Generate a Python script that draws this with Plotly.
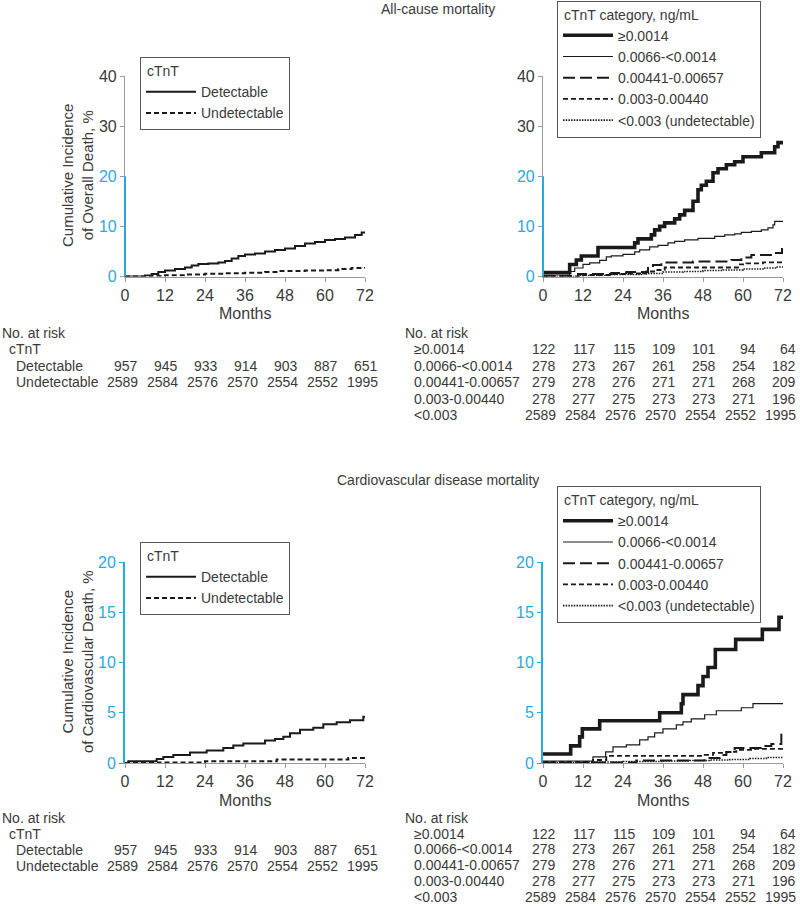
import plotly.graph_objects as go

# ---------------- data ----------------
months_ticks = [0, 12, 24, 36, 48, 60, 72]

# All-cause mortality, detectable vs undetectable
all_det_t = [0, 6, 8, 10, 12, 15, 18, 20, 22, 25, 28, 30, 32, 34, 36, 39, 42, 45, 48, 51, 54, 57, 60, 63, 66, 69, 71, 72]
all_det_y = [0, 0.2, 0.5, 0.9, 1.2, 1.5, 1.8, 2.2, 2.5, 2.6, 2.8, 3.1, 3.6, 4.1, 4.4, 4.6, 5.0, 5.3, 5.6, 6.1, 6.6, 6.9, 7.3, 7.5, 7.8, 8.3, 8.8, 9.0]
all_und_t = [0, 8, 12, 18, 24, 30, 36, 42, 46, 54, 60, 64, 68, 72]
all_und_y = [0, 0.1, 0.25, 0.4, 0.55, 0.65, 0.75, 0.9, 1.1, 1.2, 1.25, 1.5, 1.7, 1.9]

# All-cause mortality, cTnT categories
all_c1_t = [0, 8, 10, 11.5, 16.5, 27.5, 28.5, 32.5, 33.5, 35, 36.5, 39.5, 41, 42.5, 45, 46.5, 47.5, 49, 51, 52.5, 55, 57.5, 60, 65.5, 69.5, 70.5, 72]
all_c1_y = [0.8, 2.4, 3.3, 4.1, 5.8, 6.7, 7.5, 8.3, 9.3, 10.0, 10.7, 11.5, 12.3, 13.2, 15.0, 17.3, 18.2, 19.0, 20.7, 21.5, 22.3, 22.9, 23.9, 24.7, 25.9, 26.7, 26.7]
all_c2_t = [0, 8, 9.5, 12, 14, 17, 19, 20.5, 24, 27.5, 29, 32, 34.5, 37.5, 39.5, 42.5, 46.5, 51.5, 54.5, 57.5, 59.5, 62.5, 65.5, 67.5, 69, 69.5, 72]
all_c2_y = [0.3, 1.0, 1.7, 2.4, 2.7, 3.2, 3.9, 4.1, 4.4, 4.9, 5.3, 5.9, 6.2, 6.7, 7.0, 7.3, 7.6, 8.0, 8.3, 8.5, 8.8, 9.0, 9.3, 9.7, 10.3, 11.0, 11.0]
all_c3_t = [0, 10.5, 20.5, 25, 31.5, 33, 35.5, 45, 56.5, 59.5, 62.5, 69.5, 71.7, 72]
all_c3_y = [0.1, 0.5, 0.7, 0.9, 1.7, 2.3, 2.8, 3.0, 3.3, 3.8, 4.3, 4.7, 5.7, 5.7]
all_c4_t = [0, 12, 20, 25, 31, 34, 36.5, 58.5, 61, 66, 72]
all_c4_y = [0, 0.3, 0.5, 0.6, 1.0, 1.3, 1.8, 2.4, 2.6, 2.8, 2.8]
all_c5_t = [0, 10, 20, 30, 36, 42, 48, 54, 60, 66, 70, 72]
all_c5_y = [0, 0.2, 0.4, 0.6, 0.9, 1.0, 1.2, 1.3, 1.5, 1.7, 1.9, 2.0]

# Cardiovascular mortality, detectable vs undetectable
cvd_det_t = [0, 1, 9.5, 11.5, 14.5, 19.5, 24.5, 29.5, 32.5, 35.5, 42, 45, 47.5, 49.5, 52.5, 56.5, 59.5, 63.5, 67.5, 71.5, 72]
cvd_det_y = [0, 0.17, 0.4, 0.6, 0.8, 1.05, 1.25, 1.5, 1.75, 1.95, 2.25, 2.4, 2.6, 2.95, 3.3, 3.5, 3.85, 4.05, 4.25, 4.6, 4.7]
cvd_und_t = [0, 10, 24, 45.5, 67, 72]
cvd_und_y = [0, 0.05, 0.17, 0.34, 0.5, 0.5]

# Cardiovascular mortality, cTnT categories
cvd_c1_t = [0, 8.3, 11, 11.8, 17, 35, 41.5, 42, 46.5, 48, 49.5, 51.7, 57.8, 65.8, 70.8, 72]
cvd_c1_y = [0.9, 1.7, 2.6, 3.4, 4.2, 5.0, 5.9, 6.8, 7.7, 8.6, 9.5, 11.3, 12.3, 13.3, 14.5, 14.5]
cvd_c2_t = [0, 15, 18.8, 21, 25, 29, 31.5, 33.5, 36, 40, 42, 44.5, 48.5, 52, 59.5, 63, 72]
cvd_c2_y = [0.2, 0.6, 1.1, 1.6, 1.8, 2.3, 2.6, 3.0, 3.4, 3.8, 4.1, 4.4, 4.8, 5.2, 5.5, 5.9, 5.9]
cvd_c3_t = [0, 28, 48.5, 53, 55, 57.5, 65.5, 68.5, 71.5, 72]
cvd_c3_y = [0.05, 0.25, 0.5, 0.8, 1.1, 1.5, 1.7, 1.9, 2.8, 2.8]
cvd_c4_t = [0, 15, 19, 48.5, 51, 55, 58, 63, 72]
cvd_c4_y = [0.1, 0.3, 0.7, 0.8, 1.0, 1.1, 1.3, 1.4, 1.4]
cvd_c5_t = [0, 12, 24, 36, 44, 50, 56, 62, 67, 72]
cvd_c5_y = [0.05, 0.1, 0.15, 0.2, 0.25, 0.3, 0.35, 0.45, 0.55, 0.6]

# Number at risk
risk_detectable = [957, 945, 933, 914, 903, 887, 651]
risk_undetectable = [2589, 2584, 2576, 2570, 2554, 2552, 1995]
risk_cat1 = [122, 117, 115, 109, 101, 94, 64]
risk_cat2 = [278, 273, 267, 261, 258, 254, 182]
risk_cat3 = [279, 278, 276, 271, 271, 268, 209]
risk_cat4 = [278, 277, 275, 273, 273, 271, 196]
risk_cat5 = [2589, 2584, 2576, 2570, 2554, 2552, 1995]

two_names = ["Detectable", "Undetectable"]
cat_names = ["\u22650.0014", "0.0066-&lt;0.0014", "0.00441-0.00657", "0.003-0.00440", "&lt;0.003 (undetectable)"]
cat_row_labels = ["\u22650.0014", "0.0066-&lt;0.0014", "0.00441-0.00657", "0.003-0.00440", "&lt;0.003"]

# ---------------- styling ----------------
W, H = 800, 906
FONT = "Liberation Sans, Arial, sans-serif"
TXT = "#3a3a3a"
GRAY = "#9a9a9a"
BLUE = "#2aa9e0"
INK = "#1a1a1a"

two_styles = [dict(width=2, dash="solid"), dict(width=2, dash="5px,3px")]
cat_styles = [
    dict(width=3.6, dash="solid"),
    dict(width=1.2, dash="solid"),
    dict(width=2, dash="12px,5px"),
    dict(width=1.8, dash="5px,3px"),
    dict(width=1.6, dash="1.5px,1.2px"),
]

def px_x(p):
    return p / W

def px_y(p):
    return 1 - p / H

fig = go.Figure()

panels = [
    ("x", "y", [(all_det_t, all_det_y), (all_und_t, all_und_y)], two_names, two_styles, "legend"),
    ("x2", "y2", [(all_c1_t, all_c1_y), (all_c2_t, all_c2_y), (all_c3_t, all_c3_y), (all_c4_t, all_c4_y), (all_c5_t, all_c5_y)], cat_names, cat_styles, "legend2"),
    ("x3", "y3", [(cvd_det_t, cvd_det_y), (cvd_und_t, cvd_und_y)], two_names, two_styles, "legend3"),
    ("x4", "y4", [(cvd_c1_t, cvd_c1_y), (cvd_c2_t, cvd_c2_y), (cvd_c3_t, cvd_c3_y), (cvd_c4_t, cvd_c4_y), (cvd_c5_t, cvd_c5_y)], cat_names, cat_styles, "legend4"),
]
for xa, ya, series, names, styles, lg in panels:
    for (t, v), nm, st in zip(series, names, styles):
        fig.add_trace(go.Scatter(x=t, y=v, mode="lines", line_shape="hv", name=nm,
                                 line=dict(color=INK, **st), xaxis=xa, yaxis=ya,
                                 legend=lg, hoverinfo="skip"))

xdom_left = [px_x(125), px_x(365)]
xdom_right = [px_x(543), px_x(783)]
ydom_top = [px_y(276.5), px_y(76)]
ydom_bot = [px_y(763), px_y(562)]

tickfont = dict(family=FONT, size=16, color=TXT)
xcommon = dict(range=[0, 72], tickvals=months_ticks, ticks="outside", ticklen=4, tickcolor=GRAY,
               showline=True, linecolor=GRAY, linewidth=1.2, showgrid=False, zeroline=False,
               tickfont=tickfont, fixedrange=True)

layout = dict(
    width=W, height=H, margin=dict(l=0, r=0, t=0, b=0, autoexpand=False),
    paper_bgcolor="white", plot_bgcolor="white",
    font=dict(family=FONT, size=14, color=TXT),
    xaxis=dict(domain=xdom_left, anchor="y", **xcommon),
    xaxis2=dict(domain=xdom_right, anchor="y2", **xcommon),
    xaxis3=dict(domain=xdom_left, anchor="y3", **xcommon),
    xaxis4=dict(domain=xdom_right, anchor="y4", **xcommon),
)

ytop_common = dict(range=[0, 40], tickvals=[0, 10, 20, 30, 40],
                   ticktext=[f'<span style="color:{BLUE}">0</span>', f'<span style="color:{BLUE}">10</span>',
                             f'<span style="color:{BLUE}">20</span>', "30", "40"],
                   ticks="outside", ticklen=4, tickcolor=GRAY, showline=True, linecolor=GRAY,
                   linewidth=1.2, showgrid=False, zeroline=False, tickfont=tickfont, fixedrange=True)
layout["yaxis"] = dict(domain=ydom_top, anchor="x", **ytop_common)
layout["yaxis2"] = dict(domain=ydom_top, anchor="x2", **ytop_common)
ybot_common = dict(range=[0, 20], tickvals=[0, 5, 10, 15, 20], ticks="outside", ticklen=4,
                   tickcolor=BLUE, showline=True, linecolor=BLUE, linewidth=2, showgrid=False,
                   zeroline=False, tickfont=dict(family=FONT, size=16, color=BLUE), fixedrange=True)
layout["yaxis3"] = dict(domain=ydom_bot, anchor="x3", **ybot_common)
layout["yaxis4"] = dict(domain=ydom_bot, anchor="x4", **ybot_common)
for name, over, anc in [("yaxis5", "y", "x"), ("yaxis6", "y2", "x2")]:
    layout[name] = dict(overlaying=over, anchor=anc, range=[0, 40], tickvals=[0, 10, 20],
                        ticks="outside", ticklen=4, tickcolor=BLUE, tickwidth=1.5,
                        showticklabels=False, showline=False, showgrid=False, zeroline=False,
                        fixedrange=True)

legend_common = dict(bgcolor="white", bordercolor="#555555", borderwidth=1,
                     font=dict(family=FONT, size=14, color=TXT), xanchor="left", yanchor="top",
                     itemwidth=50, tracegroupgap=0, itemclick=False, itemdoubleclick=False)
ltitle = lambda s: dict(text=" " + s, font=dict(family=FONT, size=14, color=TXT))
layout["legend"] = dict(x=px_x(140), y=px_y(57), title=ltitle("cTnT"), **legend_common)
layout["legend2"] = dict(x=px_x(557), y=px_y(0.5), title=ltitle("cTnT category, ng/mL"), **legend_common)
layout["legend3"] = dict(x=px_x(140), y=px_y(542), title=ltitle("cTnT"), **legend_common)
layout["legend4"] = dict(x=px_x(557), y=px_y(486), title=ltitle("cTnT category, ng/mL"), **legend_common)

fig.update_layout(**layout)

for xr, yr in [("x", "y"), ("x2", "y2")]:
    fig.add_shape(type="line", xref=f"{xr} domain", yref=yr, x0=0, x1=0, y0=0, y1=20,
                  line=dict(color=BLUE, width=2), layer="above")

ann = []
def text(x, y, s, xref="paper", xanchor="left", size=14, color=TXT, xshift=0, **kw):
    ann.append(dict(x=x, y=y, xref=xref, yref="paper", text=s, showarrow=False, xanchor=xanchor,
                    yanchor="middle", xshift=xshift, font=dict(family=FONT, size=size, color=color), **kw))

text(px_x(438), px_y(9), "All-cause mortality", xanchor="center")
text(px_x(438), px_y(480), "Cardiovascular disease mortality", xanchor="center")

text(px_x(77), px_y(176), "Cumulative Incidence<br>of Overall Death, %", xanchor="center", size=15, textangle=-90)
text(px_x(77), px_y(662), "Cumulative Incidence<br>of Cardiovascular Death, %", xanchor="center", size=15, textangle=-90)

for xr, yy in [("x", 313), ("x2", 313), ("x3", 800), ("x4", 800)]:
    text(36, px_y(yy), "Months", xref=xr, xanchor="center", size=16)

def risk_table(xref, label_x, row0_y, step, header_rows, rows, row_indent):
    y = row0_y
    for s, ind in header_rows:
        text(px_x(label_x + ind), px_y(y), s)
        y += step
    for lab, vals in rows:
        text(px_x(label_x + row_indent), px_y(y), lab)
        for m, v in zip(months_ticks, vals):
            text(m, px_y(y), str(v), xref=xref, xanchor="right", xshift=15)
        y += step

risk_table("x", 0, 333, 16.4, [("No. at risk", 0), ("cTnT", 7)],
           [("Detectable", risk_detectable), ("Undetectable", risk_undetectable)], 14)
risk_table("x2", 403, 333, 16.4, [("No. at risk", 0)],
           list(zip(cat_row_labels, [risk_cat1, risk_cat2, risk_cat3, risk_cat4, risk_cat5])), 9)
risk_table("x3", 0, 818, 16.0, [("No. at risk", 0), ("cTnT", 7)],
           [("Detectable", risk_detectable), ("Undetectable", risk_undetectable)], 14)
risk_table("x4", 403, 818, 15.7, [("No. at risk", 0)],
           list(zip(cat_row_labels, [risk_cat1, risk_cat2, risk_cat3, risk_cat4, risk_cat5])), 9)

fig.update_layout(annotations=ann)
# remove the browser's default body margin right away (not deferred to the
# plot promise) so the 800x906 figure fills the window exactly
fig.write_html("out.html", config={"displayModeBar": False},
               post_script="});document.body.style.margin='0';(function(){")
